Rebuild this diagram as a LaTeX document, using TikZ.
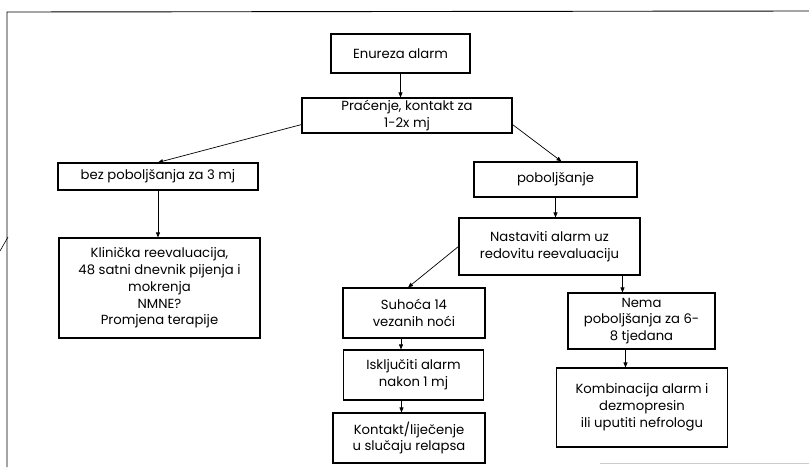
\documentclass[tikz,border=0pt]{standalone}
\usepackage{fontspec}
\setmainfont{Poppins}
\usetikzlibrary{arrows.meta}

\begin{document}
\begin{tikzpicture}[x=1pt, y=-1pt,
    korak/.style={draw, line width=1.1pt, align=center, inner sep=1pt,
        font=\fontsize{13.2}{16.8}\selectfont},
    arr/.style={line width=0.7pt, -{Triangle[length=5pt,width=4pt]}}]
        \useasboundingbox (0, 0) rectangle (809, 467);

        % okvir stranice
        \draw[line width=0.9pt] (7, 467) -- (7, 12) -- (809, 11);
        \draw[line width=0.6pt] (0, 251) -- (4, 244) -- (8, 237);
        \draw[gray!40, line width=0.8pt] (600, 463) -- (809, 463);

        \node[korak, minimum width=139, minimum height=39] (enureza) at(400.5, 53.5){Enureza alarm};
        \node[korak, minimum width=210, minimum height=35] (pracenje) at(407, 115.5){Praćenje, kontakt za\\1-2x mj};

        \node[korak, minimum width=200, minimum height=27] (bez) at(158, 176.5){bez poboljšanja za 3 mj};
        \node[korak, minimum width=201, minimum height=100] (klinicka) at(159.5, 288){Klinička reevaluacija,\\48 satni dnevnik pijenja i\\mokrenja\\NMNE?\\Promjena terapije};

        \node[korak, minimum width=163, minimum height=35] (pob) at(555.5, 179.5){poboljšanje};
        \node[korak, minimum width=181, minimum height=57] (nastaviti) at(549.5, 246.5){Nastaviti alarm uz\\redovitu reevaluaciju};

        \node[korak, minimum width=142, minimum height=50] (suhoca) at(414, 313){Suhoća 14\\vezanih noći};
        \node[korak, minimum width=140, minimum height=50] (iskljuciti) at(413.5, 375){Isključiti alarm\\nakon 1 mj};
        \node[korak, minimum width=152, minimum height=50] (kontakt) at(409, 438){Kontakt/liječenje\\u slučaju relapsa};

        \node[korak, minimum width=147, minimum height=56] (nema) at(641.5, 321){Nema\\poboljšanja za 6-\\8 tjedana};
        \node[korak, minimum width=171, minimum height=79] (kombinacija) at(642, 407.5){Kombinacija alarm i\\dezmopresin\\ili uputiti nefrologu};

        \coordinate (nemaUl) at ([xshift=-19pt]nema.north);
        \coordinate (nemaIz) at ([xshift=-16pt]nema.south);
        \coordinate (suhIz) at ([xshift=-13pt]suhoca.south);
        \coordinate (iskIz) at ([xshift=-12pt]iskljuciti.south);

        \draw[arr] (enureza.south) -- (enureza.south |- pracenje.north);
        \draw[arr] ([yshift=9pt]pracenje.south west) -- (bez.north);
        \draw[arr] ([yshift=9pt]pracenje.south east) -- ([xshift=6pt]pob.north);
        \draw[arr] (bez.south) -- (bez.south |- klinicka.north);
        \draw[arr] (pob.south) -- (pob.south |- nastaviti.north);
        \draw[arr] (nastaviti.west) -- ([xshift=-6pt]suhoca.north);
        \draw[arr] (nastaviti.south -| nemaUl) -- (nemaUl);
        \draw[arr] (nemaIz) -- (nemaIz |- kombinacija.north);
        \draw[arr] (suhIz) -- (suhIz |- iskljuciti.north);
        \draw[arr] (iskIz) -- (iskIz |- kontakt.north);
\end{tikzpicture}
\end{document}
